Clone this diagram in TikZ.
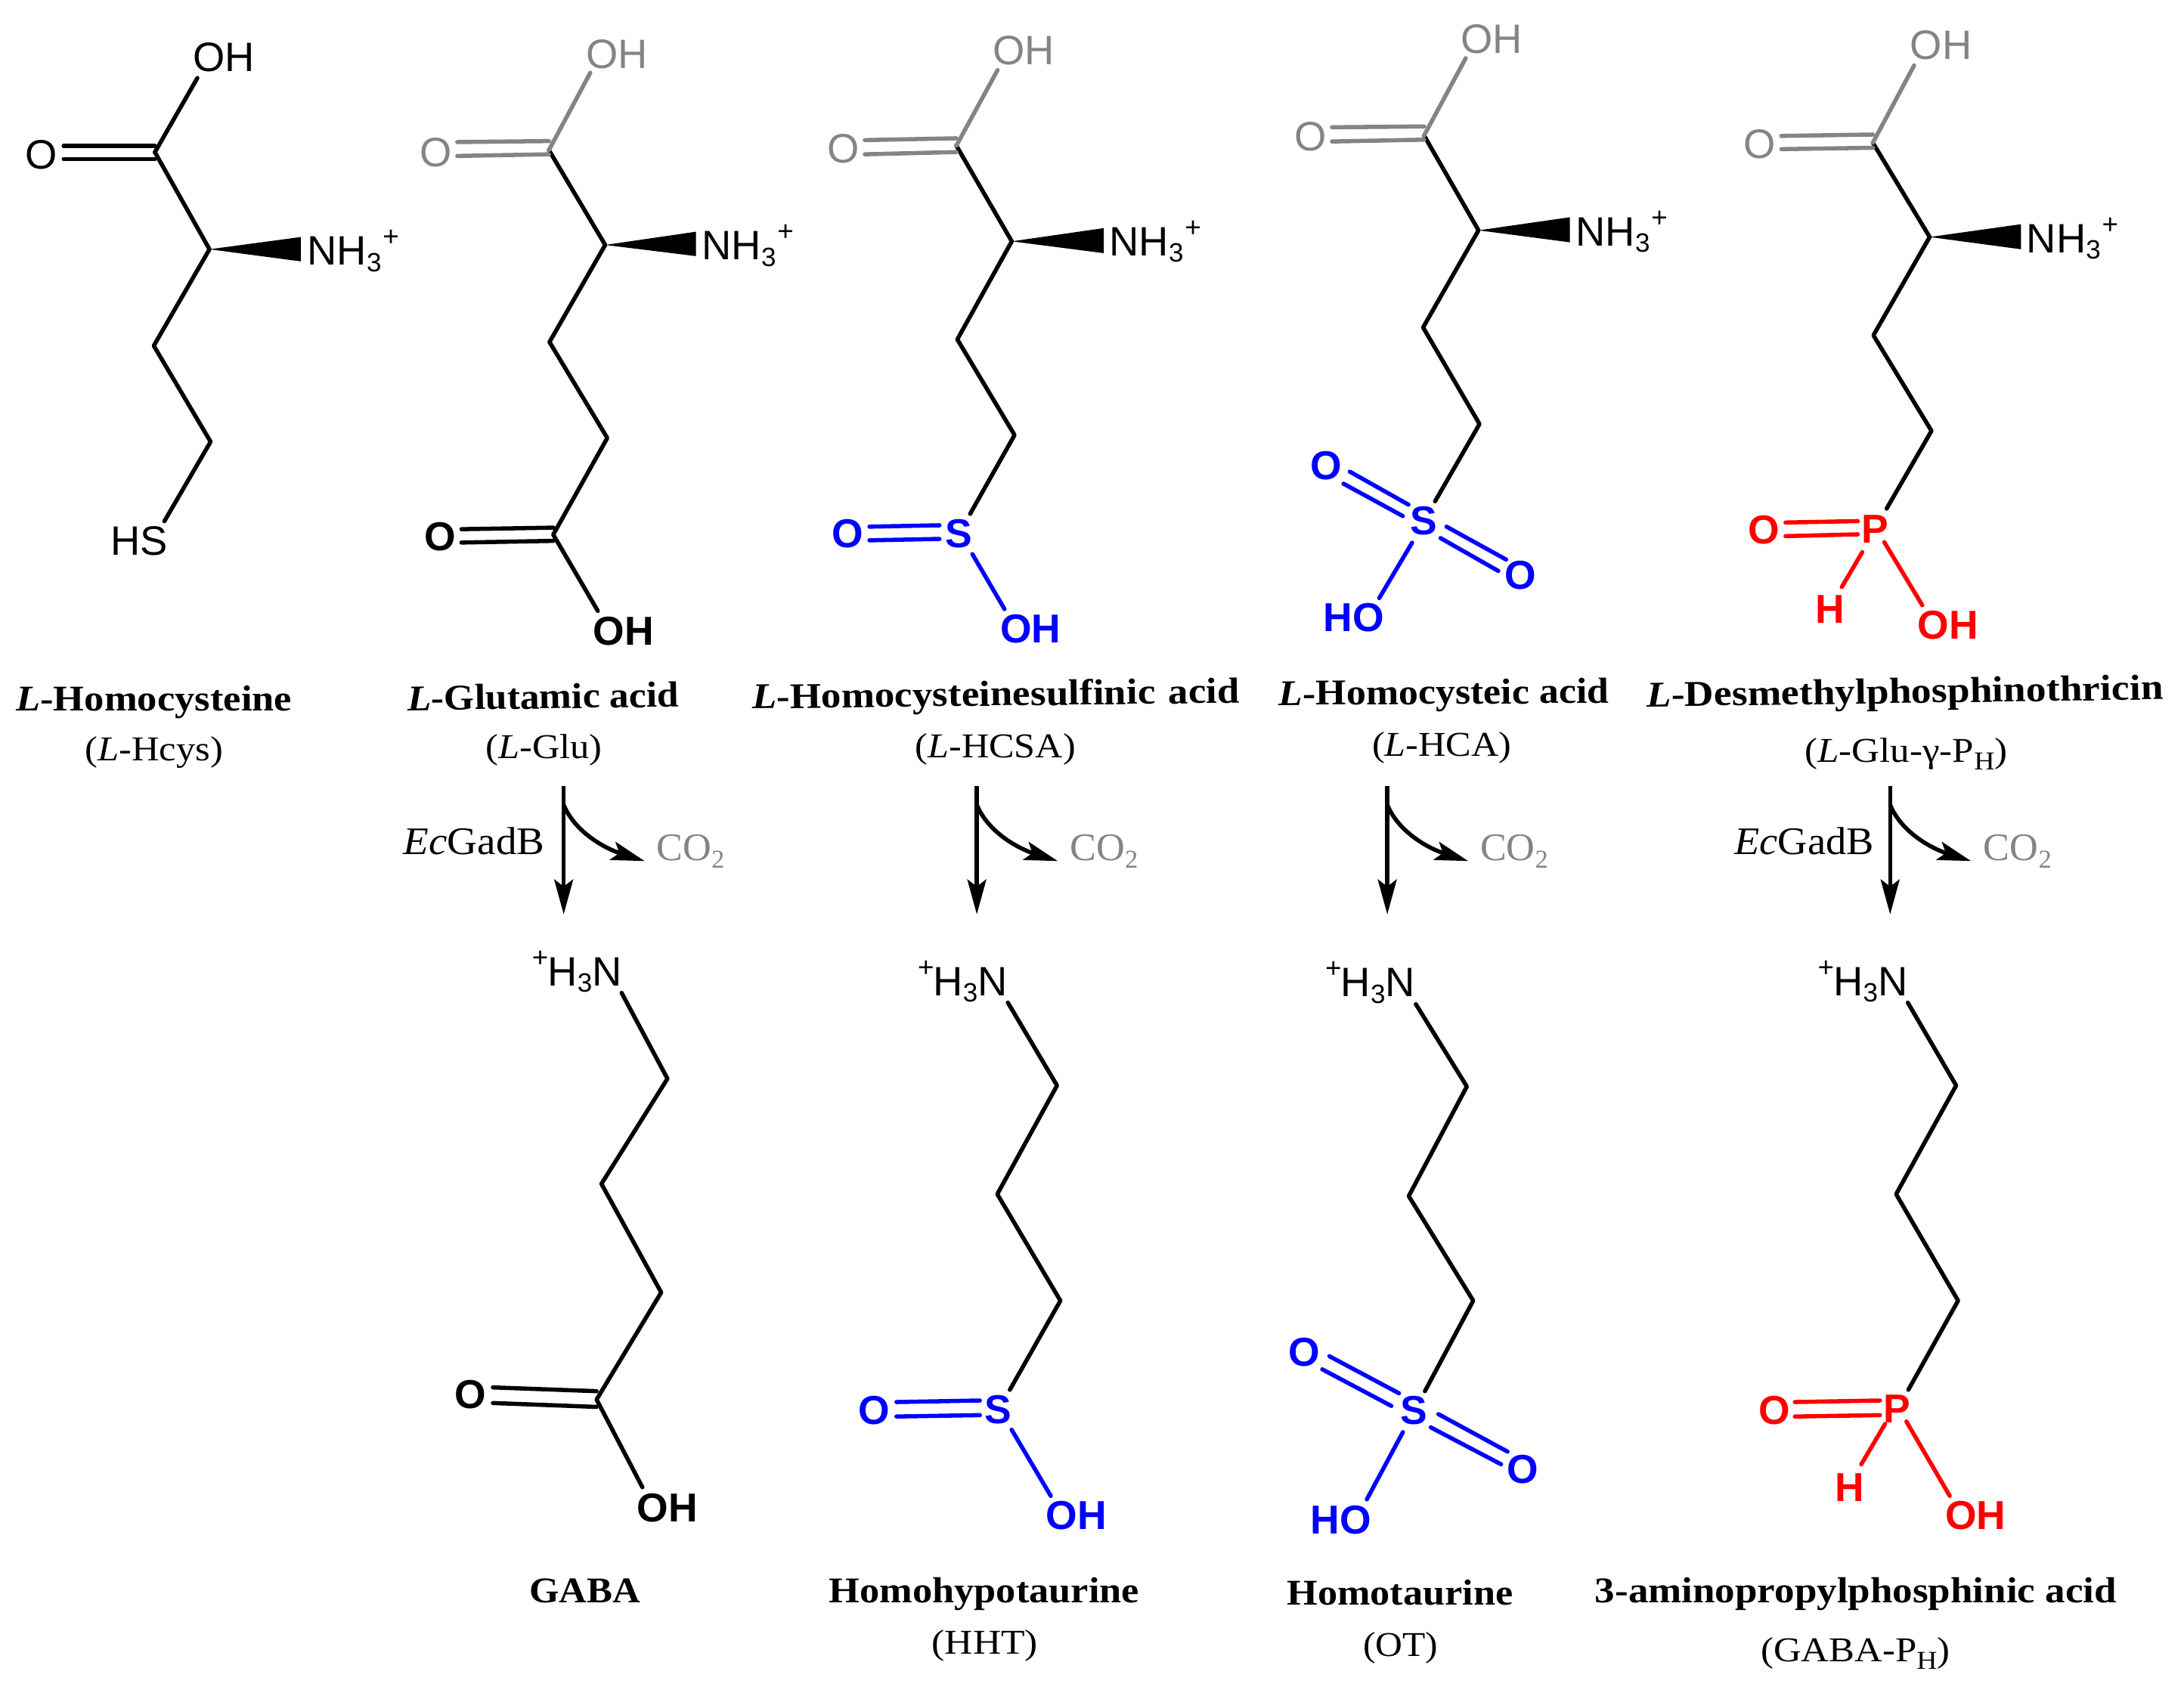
\documentclass[tikz,border=0pt]{standalone}
\usepackage{fontspec}
\usepackage{graphicx}
\setmainfont{Liberation Serif}
\newfontfamily\arialf{Liberation Sans}
\usetikzlibrary{arrows.meta}
\definecolor{chemgray}{HTML}{848484}
\definecolor{chemblue}{HTML}{0000FF}
\definecolor{chemred}{HTML}{FF0000}
\tikzset{
  bond/.style={line width=3pt,line cap=round,line join=round},
  atom/.style={inner sep=0pt,font=\arialf\fontsize{29.5}{31}\selectfont},
  atomb/.style={inner sep=0pt,font=\arialf\bfseries\fontsize{29}{31}\selectfont},
  reaction/.style={line width=3pt},
  mainhead/.style={-{Stealth[length=25pt,width=13.5pt,inset=5pt]}},
  sidehead/.style={-{Stealth[length=24pt,width=13.5pt,inset=5pt]}},
  grayb/.style={bond,draw=chemgray},
  blueb/.style={bond,draw=chemblue},
  redb/.style={bond,draw=chemred}
}
% bond between two named ends
\newcommand\bnd[5][bond]{\coordinate (#2) at (#3);\coordinate (#4) at (#5);\draw[#1] (#2) -- (#4);}
% wedge from a named stereo centre to its base
\newcommand\wdg[4]{\coordinate (#1w1) at (#2,#3);\coordinate (#1w2) at (#2,#4);\fill (#1a) -- (#1w1) -- (#1w2) -- cycle;}
\newcommand\sbs[1]{\raisebox{-4.8pt}{\fontsize{19}{20}\selectfont #1}}
\newcommand\sps{\raisebox{13.5pt}{\fontsize{20}{20}\selectfont +}}
\newcommand\nhthree[3]{\node[atom,anchor=base west] (#1) at (#2,#3) {NH\sbs{3}\kern1pt\sps};}
\newcommand\hthreen[3]{\node[atom,anchor=base east] (#1) at (#2,#3) {\sps\kern-0.5pt H\sbs{3}N};}
% caption: name, left x, baseline y, width, text
\newcommand\capn[6][0]{\node[anchor=base west,inner sep=0pt,rotate=#1] (#2) at (#3,#4) {\resizebox{#5pt}{\height}{#6}};}
\newcommand\capb{\bfseries\fontsize{26}{28}\selectfont}
\newcommand\capr{\fontsize{25}{28}\selectfont}
\newcommand\capl{\fontsize{28}{30}\selectfont}
\newcommand\sser[1]{\raisebox{-5.5pt}{\fontsize{18.5}{20}\selectfont #1}}
% reaction arrows: name, x
\newcommand\rxn[2]{%
  \coordinate (#1s) at (#2,564.6);\coordinate (#1e) at (#2,656.6);
  \draw[reaction,mainhead] (#1s) -- (#1e);
  \coordinate (#1b) at (#2,578);
  \coordinate (#1t) at ({#2+58.1},618.3);
  \draw[reaction,sidehead] (#1b) .. controls +(8.3,20) and +(-27.8,-8.8) .. (#1t);
}
\begin{document}
\begin{tikzpicture}[x=1pt,y=-1pt]
\path[use as bounding box] (0,0) rectangle (1568,1215.75);

% ---------- Molecule 1: L-Hcys
\coordinate (m1c) at (111.2,109.3);\coordinate (m1a) at (150.4,179);
\coordinate (m1b) at (110.4,248.3);\coordinate (m1g) at (151.2,317.2);\coordinate (m1s) at (118,374.3);
\draw[bond] (m1c) -- (m1a) -- (m1b) -- (m1g) -- (m1s);
\bnd{m1ohb}{141.7,56}{m1c2}{111.2,109.3}
\bnd{m1d1}{45.7,104.7}{m1d2}{111.2,104.7}
\bnd{m1d3}{45.7,114.2}{m1d4}{111.2,114.2}
\wdg{m1}{216}{170.2}{187.7}
\node[atom] (m1oh) at (160.7,41) {OH};
\node[atom] (m1o) at (29.7,111) {O};
\node[atom] (m1hs) at (99.8,388.4) {HS};
\nhthree{m1n}{220.5}{190.4}

% ---------- Molecule 2: L-Glu
\coordinate (m2c) at (394.1,107.8);\coordinate (m2a) at (434.5,175.9);
\coordinate (m2b) at (394.5,245.6);\coordinate (m2g) at (436,314.5);\coordinate (m2d) at (397.2,383.9);\coordinate (m2e) at (429.2,438.7);
\draw[bond] (m2c) -- (m2a) -- (m2b) -- (m2g) -- (m2d) -- (m2e);
\bnd[grayb]{m2ohb}{423.8,52.2}{m2c2}{394.1,107.8}
\bnd[grayb]{m2d1}{328.3,102}{m2d2}{394.1,101.3}
\bnd[grayb]{m2d3}{328.3,112}{m2d4}{394.1,110.8}
\bnd{m2d5}{331.3,380}{m2d6}{397.2,378.9}
\bnd{m2d7}{331.3,389.6}{m2d8}{397.2,388.4}
\wdg{m2}{499.6}{166.4}{183.9}
\node[atom,text=chemgray] (m2oh) at (442.9,38.8) {OH};
\node[atom,text=chemgray] (m2o) at (313,109.3) {O};
\node[atomb] (m2o2) at (316,385.4) {O};
\node[atomb] (m2oh2) at (447.8,453.2) {OH};
\nhthree{m2n}{503.8}{186.6}

% ---------- Molecule 3: L-HCSA
\coordinate (m3c) at (686.6,104.6);\coordinate (m3a) at (726.4,173.3);
\coordinate (m3b) at (687.3,243.7);\coordinate (m3g) at (728.4,312.4);\coordinate (m3s) at (696.5,369);
\draw[bond] (m3c) -- (m3a) -- (m3b) -- (m3g) -- (m3s);
\bnd[grayb]{m3ohb}{716.2,50.3}{m3c2}{686.6,104.6}
\bnd[grayb]{m3d1}{620.9,100.6}{m3d2}{686.6,99.3}
\bnd[grayb]{m3d3}{620.9,110.8}{m3d4}{686.6,109.2}
\bnd[blueb]{m3d5}{624.2,378.2}{m3d6}{674.5,377.2}
\bnd[blueb]{m3d7}{624.2,388}{m3d8}{674.5,387}
\bnd[blueb]{m3so1}{698.1,397.9}{m3so2}{721.2,437.4}
\wdg{m3}{792.5}{163.8}{181.8}
\node[atom,text=chemgray] (m3oh) at (735,36.2) {OH};
\node[atom,text=chemgray] (m3o) at (605.4,106.9) {O};
\node[atomb,text=chemblue] (m3sa) at (688.6,383) {S};
\node[atomb,text=chemblue] (m3o2) at (608.7,383) {O};
\node[atomb,text=chemblue] (m3oh2) at (739.9,451.5) {OH};
\nhthree{m3n}{796.3}{183.5}

% ---------- Molecule 4: L-HCA
\coordinate (m4c) at (1022.4,97.3);\coordinate (m4a) at (1061.5,165.4);
\coordinate (m4b) at (1021.7,235.1);\coordinate (m4g) at (1062.2,304.5);\coordinate (m4s) at (1030.3,360);
\draw[bond] (m4c) -- (m4a) -- (m4b) -- (m4g) -- (m4s);
\bnd[grayb]{m4ohb}{1052.3,41.8}{m4c2}{1022.4,97.3}
\bnd[grayb]{m4d1}{956.3,91.4}{m4d2}{1022.4,90.8}
\bnd[grayb]{m4d3}{956.3,101.6}{m4d4}{1022.4,100.3}
\bnd[blueb]{m4d5}{969.1,338.7}{m4d6}{1011.2,362.4}
\bnd[blueb]{m4d7}{964.5,347.3}{m4d8}{1007.2,370.6}
\bnd[blueb]{m4d9}{1038.5,378.2}{m4d10}{1081.3,401.8}
\bnd[blueb]{m4d11}{1034.2,386.4}{m4d12}{1075.7,410}
\bnd[blueb]{m4so1}{1013.8,389.7}{m4so2}{990.2,429.5}
\wdg{m4}{1127.1}{156}{174}
\node[atom,text=chemgray] (m4oh) at (1071,28) {OH};
\node[atom,text=chemgray] (m4o) at (940.8,98) {O};
\node[atomb,text=chemblue] (m4sa) at (1022,373.9) {S};
\node[atomb,text=chemblue] (m4o2) at (952.3,334.4) {O};
\node[atomb,text=chemblue] (m4o3) at (1091.7,413.3) {O};
\node[atomb,text=chemblue] (m4oh2) at (971.8,443.3) {HO};
\nhthree{m4n}{1131.2}{176.4}

% ---------- Molecule 5: L-Glu-gamma-PH
\coordinate (m5c) at (1344.6,102.5);\coordinate (m5a) at (1385.4,170.2);
\coordinate (m5b) at (1345,240.8);\coordinate (m5g) at (1386.7,309.4);\coordinate (m5s) at (1354.5,365.2);
\draw[bond] (m5c) -- (m5a) -- (m5b) -- (m5g) -- (m5s);
\bnd[grayb]{m5ohb}{1374.2,47}{m5c2}{1344.6,102.5}
\bnd[grayb]{m5d1}{1278.9,97.6}{m5d2}{1344.6,96.6}
\bnd[grayb]{m5d3}{1278.9,107.1}{m5d4}{1344.6,106.1}
\bnd[redb]{m5d5}{1281.9,375.2}{m5d6}{1333.8,374.2}
\bnd[redb]{m5d7}{1281.9,385}{m5d8}{1333.8,383.7}
\bnd[redb]{m5ph1}{1337,396.5}{m5ph2}{1322.3,421.5}
\bnd[redb]{m5po1}{1352.8,389.3}{m5po2}{1380.1,434.6}
\wdg{m5}{1451}{161}{179}
\node[atom,text=chemgray] (m5oh) at (1393.6,32.2) {OH};
\node[atom,text=chemgray] (m5o) at (1263.1,103.5) {O};
\node[atomb,text=chemred] (m5pa) at (1346.3,380) {P};
\node[atomb,text=chemred] (m5o2) at (1266.4,380.3) {O};
\node[atomb,text=chemred] (m5h) at (1313.7,437.6) {H};
\node[atomb,text=chemred] (m5oh2) at (1398.5,449) {OH};
\nhthree{m5n}{1454.8}{181.3}

% ---------- Top captions
\capn{c1}{11.4}{510.3}{198}{\capb\textit{L}-Homocysteine}
\capn{c1b}{60.9}{546.5}{99}{\capr(\textit{L}-Hcys)}
\capn[0.8]{c2}{292.5}{510.3}{195}{\capb\textit{L}-Glutamic acid}
\capn{c2b}{348.4}{544.5}{83.8}{\capr(\textit{L}-Glu)}
\capn[0.7]{c3}{540}{509}{350}{\capb\textit{L}-Homocysteinesulfinic\kern2pt\ acid}
\capn{c3b}{657}{544}{115}{\capr(\textit{L}-HCSA)}
\capn[0.4]{c4}{918}{506.5}{237}{\capb\textit{L}-Homocysteic acid}
\capn{c4b}{985}{543}{100}{\capr(\textit{L}-HCA)}
\capn[0.8]{c5}{1182.1}{507.5}{371}{\capb\textit{L}-Desmethylphosphinothricin}
\capn{c5b}{1295.5}{547.3}{145.6}{\capr(\textit{L}-Glu-γ-P\sser{H})}

% ---------- Reaction arrows
\rxn{r1}{404.7}
\rxn{r2}{701.3}
\rxn{r3}{996}
\rxn{r4}{1357}
\capn{e1}{289.4}{613.6}{101.4}{\capl\textit{Ec}GadB}
\capn{e4}{1245}{613.6}{100.2}{\capl\textit{Ec}GadB}
\capn{co1}{471.1}{618}{48.8}{\capl\color{chemgray}CO\sser{2}}
\capn{co2}{768.1}{618}{48.8}{\capl\color{chemgray}CO\sser{2}}
\capn{co3}{1062.5}{618}{48.8}{\capl\color{chemgray}CO\sser{2}}
\capn{co4}{1423.9}{618}{48.8}{\capl\color{chemgray}CO\sser{2}}

% ---------- Molecule 6: GABA
\coordinate (m6n) at (446.3,713);\coordinate (m6a) at (479.2,774.6);\coordinate (m6b) at (431.8,850.1);
\coordinate (m6g) at (474.7,928.1);\coordinate (m6c) at (428.3,1005);\coordinate (m6e) at (461.2,1068);
\draw[bond] (m6n) -- (m6a) -- (m6b) -- (m6g) -- (m6c) -- (m6e);
\bnd{m6d1}{353.9,996.3}{m6d2}{428.3,999}
\bnd{m6d3}{353.9,1007.5}{m6d4}{428.3,1010.3}
\hthreen{m6l}{446.6}{707.8}
\node[atomb] (m6o) at (337.6,1001.5) {O};
\node[atomb] (m6oh) at (479.2,1083) {OH};

% ---------- Molecule 7: HHT
\coordinate (m7n) at (723.6,720);\coordinate (m7a) at (758.9,779.5);\coordinate (m7b) at (716,857.5);
\coordinate (m7g) at (761.3,934);\coordinate (m7s) at (725,998);
\draw[bond] (m7n) -- (m7a) -- (m7b) -- (m7g) -- (m7s);
\bnd[blueb]{m7d1}{643.6,1006.8}{m7d2}{703.5,1005.7}
\bnd[blueb]{m7d3}{643.6,1017.2}{m7d4}{703.5,1016.2}
\bnd[blueb]{m7so1}{726.3,1026.7}{m7so2}{754.4,1074.2}
\hthreen{m7l}{723.5}{714.8}
\node[atomb,text=chemblue] (m7sa) at (716.6,1012) {S};
\node[atomb,text=chemblue] (m7o) at (627.3,1012.7) {O};
\node[atomb,text=chemblue] (m7oh) at (772.7,1088.2) {OH};

% ---------- Molecule 8: OT
\coordinate (m8n) at (1016.5,721.1);\coordinate (m8a) at (1053.1,780.2);\coordinate (m8b) at (1011.4,858.9);
\coordinate (m8g) at (1057.7,934);\coordinate (m8s) at (1023,999);
\draw[bond] (m8n) -- (m8a) -- (m8b) -- (m8g) -- (m8s);
\bnd[blueb]{m8d1}{954.4,973.9}{m8d2}{1004.4,1000.5}
\bnd[blueb]{m8d3}{949.3,983.3}{m8d4}{998.9,1009.6}
\bnd[blueb]{m8d5}{1032.7,1015.5}{m8d6}{1082.3,1042.4}
\bnd[blueb]{m8d7}{1027.2,1025}{m8d8}{1077.7,1051.5}
\bnd[blueb]{m8so1}{1007.2,1028.4}{m8so2}{981.3,1076.7}
\hthreen{m8l}{1016.1}{715.5}
\node[atomb,text=chemblue] (m8sa) at (1015.1,1013) {S};
\node[atomb,text=chemblue] (m8o) at (936.3,971.1) {O};
\node[atomb,text=chemblue] (m8o2) at (1093.4,1055) {O};
\node[atomb,text=chemblue] (m8oh) at (962.7,1091.4) {HO};

% ---------- Molecule 9: GABA-PH
\coordinate (m9n) at (1369.7,720);\coordinate (m9a) at (1404.4,779.5);\coordinate (m9b) at (1361.3,857.5);
\coordinate (m9g) at (1405.8,934);\coordinate (m9s) at (1370.1,998);
\draw[bond] (m9n) -- (m9a) -- (m9b) -- (m9g) -- (m9s);
\bnd[redb]{m9d1}{1288.6,1006.8}{m9d2}{1349.7,1005.7}
\bnd[redb]{m9d3}{1288.6,1017.2}{m9d4}{1349.7,1016.2}
\bnd[redb]{m9ph1}{1353.4,1022.5}{m9ph2}{1336.3,1051.5}
\bnd[redb]{m9po1}{1368.7,1020.8}{m9po2}{1399.8,1074.2}
\hthreen{m9l}{1369.7}{714.8}
\node[atomb,text=chemred] (m9pa) at (1361.8,1012) {P};
\node[atomb,text=chemred] (m9o) at (1273.7,1012.7) {O};
\node[atomb,text=chemred] (m9h) at (1328,1068) {H};
\node[atomb,text=chemred] (m9oh) at (1418.3,1088.2) {OH};

% ---------- Bottom captions
\capn{c6}{379.8}{1150.8}{79.7}{\capb GABA}
\capn{c7}{595.1}{1150.8}{222.6}{\capb Homohypotaurine}
\capn{c7b}{668.9}{1187.9}{76.1}{\capr(HHT)}
\capn{c8}{923.8}{1152.6}{162.2}{\capb Homotaurine}
\capn{c8b}{978.5}{1189.3}{53.8}{\capr(OT)}
\capn{c9}{1144.9}{1150.8}{374.5}{\capb 3-aminopropylphosphinic acid}
\capn{c9b}{1264}{1193.1}{135.8}{\capr(GABA-P\sser{H})}
\end{tikzpicture}
\end{document}
